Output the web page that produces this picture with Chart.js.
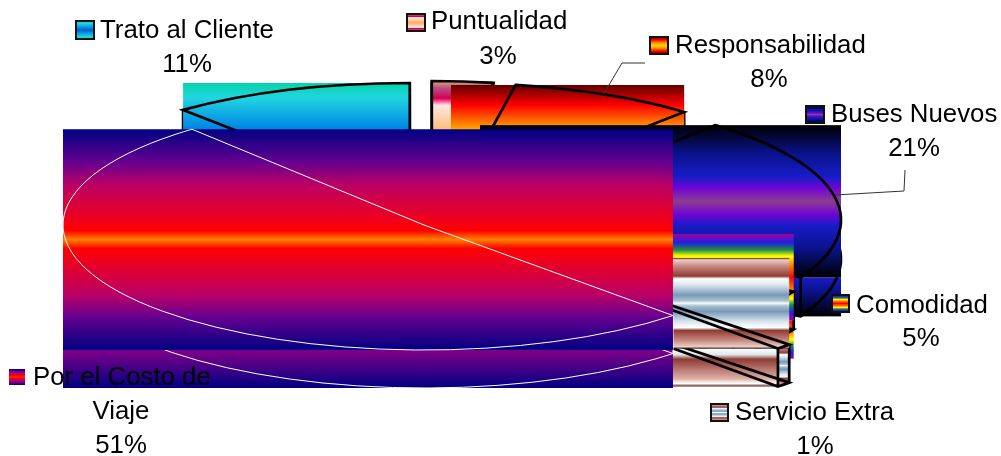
<!DOCTYPE html>
<html><head><meta charset="utf-8">
<style>html,body{margin:0;padding:0;background:#fff}canvas{display:block}</style>
<script src="https://cdn.jsdelivr.net/npm/chart.js@4"></script>
</head><body><canvas id="c" width="1001" height="456"></canvas>
<script>
const categories=["Trato al Cliente","Puntualidad","Responsabilidad","Buses Nuevos","Comodidad","Servicio Extra","Por el Costo de Viaje"];
const values=[11.1,2.9,8.4,21.3,4.6,0.7,51.0];
const baseColors=["#21D6E0","#FFC080","#FF0000","#181CC7","#FFFF00","#7898B8","#BA0066"];

const OCEAN=[[0,"#03D4A8"],[.25,"#21D6E0"],[.78,"#0087E6"],[1,"#005CBF"]];
const PEACH=[[0,"#E0A868"],[.12,"#B85088"],[.3,"#D00050"],[.36,"#FF60A0"],[.42,"#FFE8E0"],[.82,"#FFC080"],[1,"#FFB070"]];
const FIRE=[[0,"#5F0000"],[.34,"#FF0000"],[.73,"#FFA000"],[1,"#FFD000"]];
const MIDNIGHT=[[0,"#000000"],[.38,"#0A128C"],[.68,"#181CC7"],[.83,"#7005D4"],[1,"#8C3D91"]];
const RAINBOW=[[0,"#A000A0"],[.2,"#2020E0"],[.37,"#209040"],[.51,"#FFFF00"],[.72,"#FF8000"],[1,"#FF0000"]];
const CHROME=[[0,"#5A2018"],[.04,"#E8D0C8"],[.18,"#C88880"],[.40,"#8E3C34"],[.46,"#FFFFFF"],[.6,"#D8E4EC"],[.82,"#7898B8"],[.94,"#A8C0D0"],[1,"#F4F8FA"]];
const SUNSET=[[0,"#000082"],[.3,"#66008F"],[.5,"#BA0066"],[.8,"#EC0020"],[.92,"#FF0000"],[1,"#FF8200"]];

const geom=[
 {cx:410,cy:198,rx:353,ry:115,depth:38,line:"#000",lw:2.7,half:OCEAN,wall:[[0,"#005CBF"],[1,"#03D4A8"]]},
 {cx:432,cy:196,rx:340,ry:115,depth:38,line:"#000",lw:2.7,half:PEACH,wall:[[0,"#FFC080"],[1,"#E0A868"]]},
 {cx:451,cy:203,rx:358,ry:120,depth:38,line:"#000",lw:2.7,half:FIRE,wall:[[0,"#FFA000"],[1,"#5F0000"]]},
 {cx:480,cy:220,rx:361,ry:125,depth:39,line:"#000",lw:2.7,half:MIDNIGHT,wall:[[0,"#181CC7"],[.35,"#0A128C"],[1,"#000000"]]},
 {cx:473,cy:234,rx:361,ry:125,depth:38,line:"#000",lw:2.7,half:RAINBOW,wall:[[0,"#FF0000"],[.3,"#FF8000"],[.5,"#FFFF00"],[.66,"#209040"],[.82,"#2020E0"],[1,"#A000A0"]]},
 {cx:529,cy:258,rx:361,ry:125,depth:38,line:"#000",lw:2.7,half:CHROME,panel:true,wall:[[0,"#FFFFFF"],[.16,"#E0E8EC"],[.28,"#8E3C34"],[.8,"#E0B0A8"],[.92,"#FFFFFF"],[1,"#5A2018"]]},
 {cx:424,cy:225,rx:361,ry:125,depth:38,line:"#fff",lw:1,half:SUNSET,wall:[[0,"#800088"],[1,"#000082"]]}
];
const labelLayout=[
 {sw:[76,21,18,18],lines:[[100,38,"left"]],pct:[187,72]},
 {sw:[407,14,18,17],lines:[[431,29,"left"]],pct:[498,64]},
 {sw:[650,37,18,17],lines:[[675,53,"left"]],pct:[769,87]},
 {sw:[806,106,18,17],lines:[[831,122,"left"]],pct:[914,156]},
 {sw:[832,295,17,17],lines:[[856,313,"left"]],pct:[921,346]},
 {sw:[711,404,17,17],lines:[[735,420,"left"]],pct:[815,454]},
 {sw:[9,369,16,16],lines:[[33,385,"left"],[121,419,"center"]],split:["Por el Costo de","Viaje"],pct:[121,453],noBorder:true}
];
const leaders=[[[645,63],[622,63],[603,95]],[[905,170],[904,191],[835,195]]];

function linear(ctx,y0,y1,stops){
  const g=ctx.createLinearGradient(0,y0,0,y1);
  stops.forEach(s=>g.addColorStop(s[0],s[1]));
  return g;
}
function reflected(ctx,y0,y1,half){
  const g=ctx.createLinearGradient(0,y0,0,y1);
  half.forEach(s=>g.addColorStop(s[0]/2,s[1]));
  half.slice().reverse().forEach(s=>g.addColorStop(1-s[0]/2,s[1]));
  return g;
}
const threeD={
  id:"threeD",
  beforeDatasetsDraw(chart){
    const ctx=chart.ctx, meta=chart.getDatasetMeta(0);
    meta.data.forEach((arc,i)=>{
      const G=geom[i], a0=arc.startAngle, a1=arc.endAngle;
      const P=t=>({x:G.cx+G.rx*Math.cos(t),y:G.cy+G.ry*Math.sin(t)});
      const s=P(a0), e=P(a1);
      let xs=[G.cx,s.x,e.x], ys=[G.cy,s.y,e.y];
      for(let k=-4;k<12;k++){const t=k*Math.PI/2; if(t>a0&&t<a1){const p=P(t);xs.push(p.x);ys.push(p.y);}}
      const L=Math.min(...xs),R=Math.max(...xs),T=Math.min(...ys),B=Math.max(...ys);
      ctx.save();
      const wallRight=G.panel?e.x:R;
      ctx.fillStyle=linear(ctx,B,B+G.depth,G.wall);
      ctx.fillRect(L,B,wallRight-L,G.depth);
      if(G.panel){
        ctx.beginPath();ctx.moveTo(e.x,e.y);ctx.lineTo(s.x,s.y);ctx.lineTo(s.x,s.y+G.depth);ctx.lineTo(e.x,e.y+G.depth);ctx.closePath();
        ctx.fillStyle=reflected(ctx,s.y,e.y+G.depth,G.half);ctx.fill();
      }
      ctx.strokeStyle=G.line;ctx.lineWidth=G.lw;ctx.lineJoin="miter";
      ctx.beginPath();
      ctx.moveTo(G.cx,G.cy+G.depth);ctx.lineTo(e.x,e.y+G.depth);
      ctx.ellipse(G.cx,G.cy+G.depth,G.rx,G.ry,0,a1,a0,true);
      ctx.lineTo(G.cx,G.cy+G.depth);
      ctx.moveTo(s.x,s.y);ctx.lineTo(s.x,s.y+G.depth);
      ctx.moveTo(e.x,e.y);ctx.lineTo(e.x,e.y+G.depth);
      ctx.stroke();
      ctx.fillStyle=reflected(ctx,T,B,G.half);
      ctx.fillRect(L,T,R-L,B-T);
      ctx.beginPath();
      ctx.moveTo(G.cx,G.cy);ctx.lineTo(s.x,s.y);
      ctx.ellipse(G.cx,G.cy,G.rx,G.ry,0,a0,a1,false);
      ctx.closePath();ctx.stroke();
      ctx.restore();
    });
    return false;
  },
  afterDraw(chart){
    const ctx=chart.ctx, total=values.reduce((a,b)=>a+b,0);
    ctx.save();
    ctx.strokeStyle="#333";ctx.lineWidth=1;
    leaders.forEach(l=>{ctx.beginPath();l.forEach((p,i)=>i?ctx.lineTo(p[0],p[1]):ctx.moveTo(p[0],p[1]));ctx.stroke();});
    ctx.font='25.8px "Liberation Sans", Arial, sans-serif';
    ctx.textBaseline="alphabetic";
    labelLayout.forEach((L,i)=>{
      const [x,y,w,h]=L.sw;
      ctx.fillStyle=reflected(ctx,y,y+h,geom[i].half);
      ctx.fillRect(x,y,w,h);
      if(!L.noBorder){ctx.strokeStyle="#111";ctx.lineWidth=2;ctx.strokeRect(x,y,w,h);}
      ctx.fillStyle="#000";
      const texts=L.split||[categories[i]];
      L.lines.forEach((p,k)=>{ctx.textAlign=p[2];ctx.fillText(texts[k],p[0],p[1]);});
      ctx.textAlign="center";
      ctx.fillText(Math.round(values[i]/total*100)+"%",L.pct[0],L.pct[1]);
    });
    ctx.restore();
  }
};
new Chart(document.getElementById("c"),{
  type:"pie",
  data:{labels:categories,datasets:[{data:values,backgroundColor:baseColors,borderWidth:0}]},
  options:{responsive:false,animation:false,rotation:320,
    plugins:{legend:{display:false},tooltip:{enabled:false},title:{display:false}}},
  plugins:[threeD]
});
</script></body></html>
